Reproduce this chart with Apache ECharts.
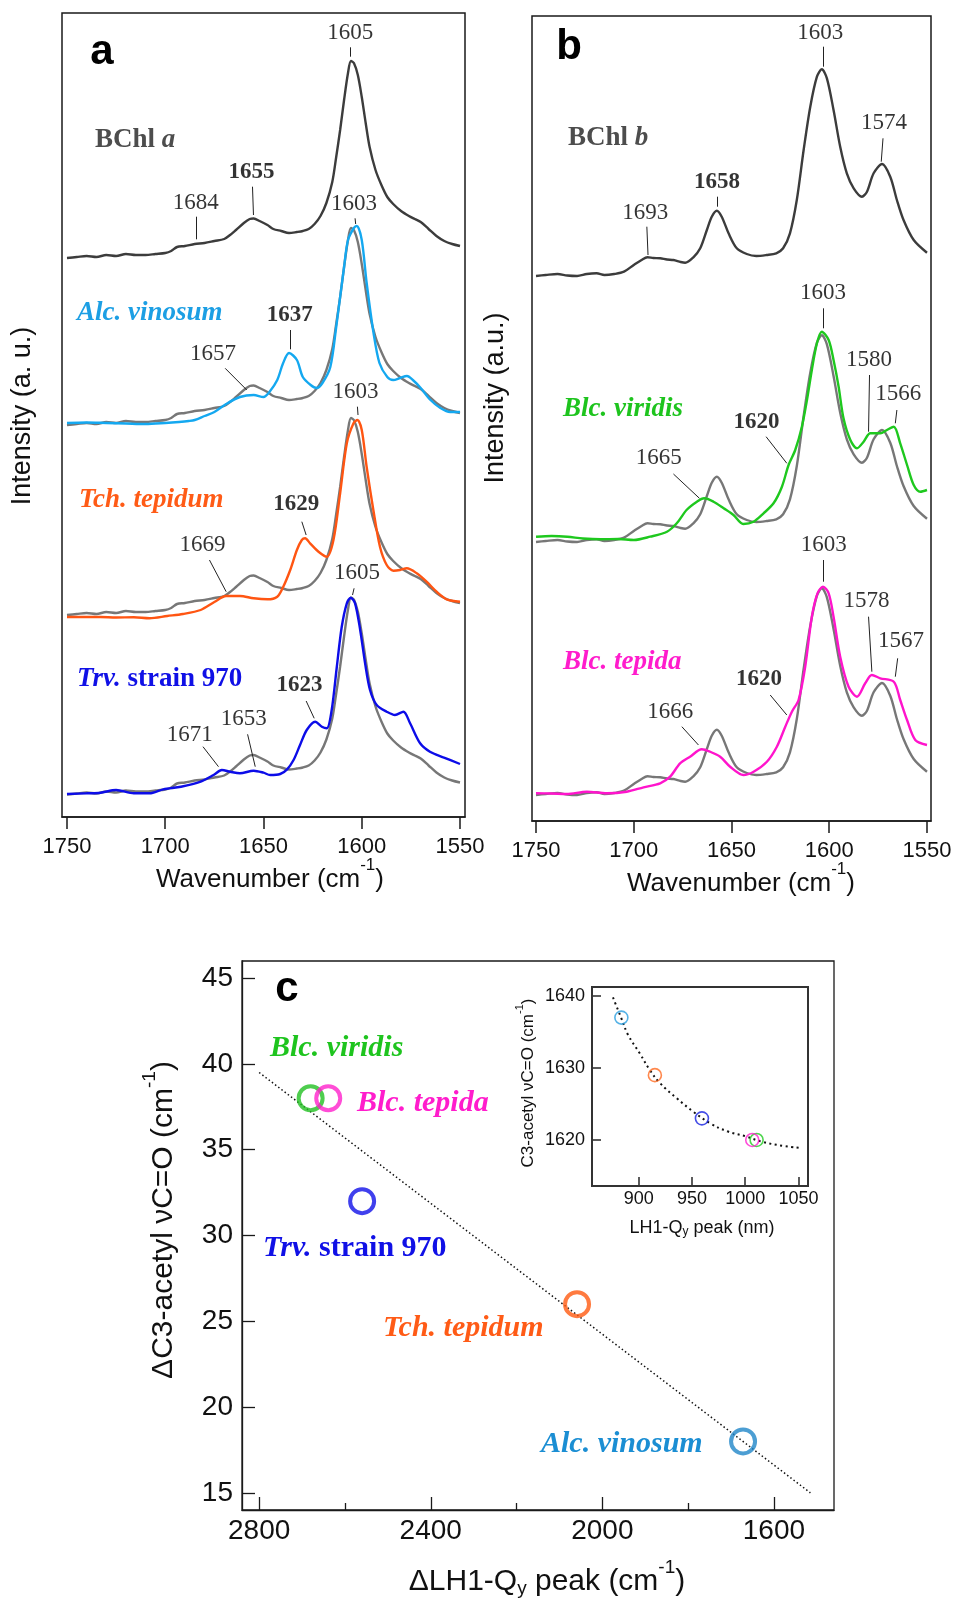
<!DOCTYPE html>
<html><head><meta charset="utf-8">
<script src="https://cdn.jsdelivr.net/npm/echarts@6/dist/echarts.min.js"></script>
<style>html,body{margin:0;padding:0;background:#fff}#chart{width:956px;height:1600px}</style>
</head><body><div id="chart"></div>
<script>
// ---------------- DATA (wavenumber cm-1, intensity a.u.) ----------------
const ticksAB = [1550, 1600, 1650, 1700, 1750];
const ticksCx = [1600, 2000, 2400, 2800];
const ticksCxMinor = [1800, 2200, 2600];
const ticksCy = [15, 20, 25, 30, 35, 40, 45];
const ticksInsetX = [900, 950, 1000, 1050];
const ticksInsetY = [1620, 1630, 1640];

// Panel a: BChl a reference spectrum
const bchlA = [[1750,559],[1745,560],[1740,561],[1735,560],[1730,562],[1725,561],[1720,563],[1715,562],[1710,562],[1705,563],[1700,564],[1697,566],[1694,570],[1690,571],[1685,573],[1680,574],[1675,576],[1670,578],[1667,582],[1664,587],[1660,594],[1657,598],[1655,598.5],[1652,596],[1648,592],[1645,588],[1641,586],[1637,584],[1633,585],[1630,586],[1627,588],[1624,593],[1621,601],[1618,614],[1615,635],[1613,660],[1611,687],[1609,717],[1607,744],[1605.5,756],[1604,754],[1602,742],[1600,720],[1598,694],[1596,670],[1593,647],[1590,632],[1587,620],[1584,613],[1580,606],[1576,601],[1573,598],[1570,595],[1566,588],[1562,581],[1558,576],[1554,573],[1550,571]];
// vertical offsets of the BChl a copy drawn under each LH1 spectrum
const bchlAOffsets = [167, 357, 536.5];
const alcVinosum = [[1750,394],[1740,394.5],[1730,394],[1720,393.5],[1710,393],[1700,394],[1693,395],[1688,396],[1685,397],[1680,401],[1675,405],[1669,413],[1662,420],[1655,422],[1650,420],[1647,425],[1643,437],[1640,454],[1637,464],[1633,457],[1630,440],[1626,432],[1623,429],[1620,434],[1616,450],[1613,490],[1609,550],[1607,577],[1604,589],[1602.5,591],[1600,577],[1597.5,534],[1594,484],[1591,454],[1587,440],[1584,437],[1580.5,439],[1577,441],[1574,437],[1570,429],[1565,417],[1560,409],[1555,405],[1550,405]];
const tchTepidum = [[1750,200],[1740,200],[1733,200],[1725,199.5],[1716,199.7],[1708,198.7],[1699,201],[1691,203],[1682,207],[1675,215],[1669,221],[1662,221],[1655,218.7],[1648,217.7],[1643,220.3],[1640,230],[1636.4,247],[1633,267],[1630.5,277],[1628.8,278.7],[1626.3,273.7],[1622,265.3],[1617.8,260.3],[1614.4,277],[1611,323.7],[1607.6,373.7],[1604.2,393.7],[1602.2,397],[1600,387],[1597.5,350],[1594.1,307],[1590.7,270],[1587.3,252],[1583.9,246.3],[1580.5,247],[1577.1,248.7],[1572,243.7],[1567,235.3],[1561.9,225.3],[1556.8,217.7],[1550,215.3]];
const trv970 = [[1750,23],[1740,23.7],[1733,24.3],[1725,27],[1716,23.7],[1708,23.7],[1701,27.7],[1692,30.3],[1682,35.3],[1675.4,42],[1671.2,47],[1667,45.3],[1662,43.7],[1655,46.3],[1650,44.3],[1646.6,42],[1641.5,43],[1638,47.7],[1634.7,57],[1631.4,72],[1628,87],[1623.7,95.3],[1620.3,90.3],[1617.8,88.7],[1615.3,107],[1612.7,150],[1610.2,190],[1607.6,213.7],[1605.6,219.3],[1603.4,213.7],[1600.8,187],[1598.3,153.7],[1595.8,127],[1592.4,112],[1587.3,105.3],[1583.1,102],[1578.8,105.3],[1575.4,93.7],[1570.3,73.7],[1565.3,65.3],[1558.5,59.7],[1550,53]];

// Panel b: BChl b reference spectrum
const bchlB = [[1750,545],[1745,546],[1739,547],[1734,545.5],[1729,545],[1724,547],[1719,547.7],[1715,546],[1710,547],[1705,549.3],[1700,556],[1696,561],[1693,563.7],[1690,563],[1686.5,562.7],[1683,561.5],[1679.7,561],[1676,559],[1673.7,558.3],[1669.5,563.7],[1666,572.7],[1662.6,591],[1660.1,604.3],[1657.5,610.3],[1655,604.3],[1651.5,587.7],[1647.3,572.7],[1642.2,567],[1637.3,565],[1632.1,566],[1627.1,567.7],[1623.6,572.7],[1620.1,587.7],[1616.6,621],[1613.1,671],[1609.7,714.3],[1606.3,744.3],[1603.8,751.7],[1601.2,742.7],[1597.8,711],[1594.4,674.3],[1591,647.7],[1587.5,632.7],[1583.3,624.3],[1580.7,629.3],[1577.3,647.7],[1573,657],[1568.8,644.3],[1565.4,621],[1562,601],[1556.8,581],[1550,568.3]];
const bchlBOffsets = [266, 519];
const blcViridis = [[1750,284.3],[1742,285],[1734,284.3],[1726,282.5],[1717,281.7],[1708,282],[1700,281],[1691.6,284.3],[1683,289.3],[1678,297.7],[1673,311],[1667.7,319.3],[1664,322.7],[1659.2,319.3],[1654,312.7],[1649,306],[1644,297],[1638.7,299.3],[1633.6,307.7],[1628.5,317.7],[1624.2,334.3],[1620.8,356],[1617.4,371],[1614,394.3],[1611.4,421],[1608.9,451],[1606.3,477.7],[1603.8,489.3],[1600.3,481],[1597.8,461],[1595.2,434.3],[1592.7,402.7],[1589.2,381],[1585.8,372.7],[1582.4,379.3],[1579,387.7],[1573.9,387.7],[1570.5,391],[1567,394.3],[1563.7,377.7],[1560.2,356],[1556.8,336],[1553.4,329.3],[1550,331]];
const blcTepida = [[1750,27.7],[1742,27.5],[1734.3,27],[1724,29.3],[1713.8,27.7],[1703.6,29.3],[1695,33.7],[1686.5,37.7],[1681.4,44.3],[1676.3,57.7],[1671.2,64.3],[1665.2,71.7],[1661,69.3],[1655.8,64.3],[1650.7,54.3],[1643.9,46],[1638.7,49.3],[1631.9,59.3],[1626.8,74.3],[1622.5,94.3],[1619.1,109.3],[1615.7,121],[1612.3,154.3],[1608.9,204.3],[1606,227.7],[1603.2,234.3],[1600.3,227.7],[1597.8,204.3],[1594.4,164.3],[1590.1,134.3],[1585.8,124.3],[1581.6,137.7],[1578.2,146],[1573.9,142.7],[1567,139.3],[1563.7,121],[1560.2,101],[1556,81],[1550,76]];

// Panel c: dLH1-Qy peak (cm-1) vs dC3-acetyl (cm-1)
const cSpecies = ['Blc. viridis', 'Blc. tepida', 'Trv. strain 970', 'Tch. tepidum', 'Alc. vinosum'];
const cDeltaQy = [2680, 2639, 2560, 2059, 1672];
const cDeltaAcetyl = [38, 38, 32, 26, 18];
const cFitLine = [[2800, 39.5], [1515, 15.0]];
// inset: LH1-Qy peak (nm) vs C3-acetyl (cm-1)
const insetQy = [1010.7, 1006.6, 959.3, 915.1, 883.6];
const insetAcetyl = [1620, 1620, 1623, 1629, 1637];
const insetFit = [[875.7,1639.8],[883.6,1636.9],[889.9,1634.6],[901,1632.0],[910.4,1629.7],[919.9,1627.9],[935.6,1625.8],[951.4,1623.9],[967.2,1622.3],[983,1621.2],[1000.3,1620.5],[1014.5,1619.8],[1030.3,1619.3],[1050.2,1618.9]];

// Peak annotations (text anchor and leader line ends, in data coordinates)
const annotA = [
 {t:'1605', b:0, at:[1605.6,783.7], from:[1605.6,769.7], to:[1605.6,760.3]},
 {t:'1655', b:1, at:[1655.9,644.3], from:[1655.6,630.3], to:[1655.1,602]},
 {t:'1684', b:0, at:[1684.2,613.7], from:[1684.4,600.3], to:[1684.4,577.7]},
 {t:'1603', b:0, at:[1603.7,613], from:[1603.4,598.7], to:[1603.1,593]},
 {t:'1637', b:1, at:[1636.4,501], from:[1636.4,487], to:[1636.4,467.7]},
 {t:'1657', b:0, at:[1675.4,463], from:[1669.5,448.7], to:[1658.5,427]},
 {t:'1603', b:0, at:[1602.9,424.3], from:[1602.2,410.3], to:[1601.9,402]},
 {t:'1629', b:1, at:[1633.1,312], from:[1630.5,295.3], to:[1628.3,282]},
 {t:'1669', b:0, at:[1680.8,272], from:[1677.5,257], to:[1669,225.3]},
 {t:'1605', b:0, at:[1602.2,243.7], from:[1603.9,228.7], to:[1604.7,222]},
 {t:'1623', b:1, at:[1631.4,131], from:[1628.3,116], to:[1624.2,98.7]},
 {t:'1653', b:0, at:[1659.8,97.7], from:[1658.1,82.7], to:[1654.2,50.3]},
 {t:'1671', b:0, at:[1687.3,82], from:[1680.8,70.3], to:[1672.9,50.3]}
];
const annotB = [
 {t:'1603', b:0, at:[1604.3,787.7], from:[1603.3,774.3], to:[1603.3,754.3]},
 {t:'1574', b:0, at:[1571.7,697.7], from:[1572.5,682.7], to:[1573.4,659.3]},
 {t:'1658', b:1, at:[1657.2,638.3], from:[1657.2,624.3], to:[1657.2,614.3]},
 {t:'1693', b:0, at:[1693.9,607.7], from:[1693.3,594.3], to:[1692.7,566]},
 {t:'1603', b:0, at:[1602.9,527.7], from:[1603.2,512.7], to:[1603.2,492.7]},
 {t:'1580', b:0, at:[1579.4,461], from:[1579.4,446], to:[1579.9,389.3]},
 {t:'1566', b:0, at:[1564.5,426.7], from:[1565.4,411], to:[1566.2,397.7]},
 {t:'1620', b:1, at:[1637,398.3], from:[1632.3,384.3], to:[1621.7,357.7]},
 {t:'1665', b:0, at:[1686.9,362.7], from:[1679.7,347], to:[1666.4,322.7]},
 {t:'1603', b:0, at:[1602.6,275.3], from:[1603.2,261], to:[1603.2,239.3]},
 {t:'1578', b:0, at:[1580.7,219.3], from:[1579.9,204.3], to:[1578.2,149.3]},
 {t:'1567', b:0, at:[1563.1,179.3], from:[1565,162.7], to:[1566.2,144.3]},
 {t:'1620', b:1, at:[1635.7,141.7], from:[1630.2,126], to:[1621.7,106]},
 {t:'1666', b:0, at:[1681.1,108.3], from:[1675.4,94.3], to:[1666.9,76]}
];

// ---------------- STYLE ----------------
const SANS = 'Liberation Sans', SERIF = 'Liberation Serif';
const DARK = '#3c3c3c', GREY = '#777777', AX = '#1a1a1a';
const col = {alc:'#14a8f0', tch:'#ff5512', trv:'#0c0ce8', vir:'#1ec81e', tep:'#ff14cc'};
const cColors = ['#22c022', '#ff20cc', '#1010e8', '#ff5a10', '#1f86c8'];
const insetColors = ['#22cc22', '#ff20d0', '#1520e0', '#ff6a20', '#2a9fe0'];
const plain = v => String(v);

function spec(data, color, xi, width) {
  return {type:'line', xAxisIndex:xi, yAxisIndex:xi, data:data, showSymbol:false, symbol:'none',
    smooth:0.3, lineStyle:{color:color, width:width||2.4}, z:3, silent:true};
}
function shifted(data, off) { return data.map(p => [p[0], p[1] - off]); }
function annotSeries(list, xi) {
  return [
    {type:'lines', coordinateSystem:'cartesian2d', xAxisIndex:xi, yAxisIndex:xi, z:5, silent:true,
     lineStyle:{color:'#222', width:1, opacity:1},
     data:list.map(a => ({coords:[a.from, a.to]}))},
    {type:'scatter', xAxisIndex:xi, yAxisIndex:xi, symbol:'circle', symbolSize:1, z:6, silent:true,
     itemStyle:{color:'rgba(0,0,0,0)'},
     label:{show:true, position:[0,0], align:'center', verticalAlign:'middle', formatter:p => p.name,
            fontFamily:SERIF, fontSize:23, color:'#000', textBorderWidth:0},
     data:list.map(a => ({name:a.t, value:a.at, label:{fontWeight:a.b ? 'bold' : 'normal'}}))}
  ];
}
function abX(grid, min, max) {
  return {gridIndex:grid, type:'value', min:min, max:max, inverse:true,
    axisLine:{show:true, onZero:false, lineStyle:{color:AX, width:1.5}},
    axisTick:{show:true, inside:false, length:12, customValues:ticksAB, lineStyle:{color:AX, width:1.5}},
    axisLabel:{show:true, customValues:ticksAB, formatter:plain, margin:19, fontSize:22, fontFamily:SANS, color:'#111'},
    splitLine:{show:false}};
}

const series = [];
bchlAOffsets.forEach(o => series.push(spec(shifted(bchlA, o), GREY, 0)));
series.push(spec(bchlA, DARK, 0));
series.push(spec(alcVinosum, col.alc, 0));
series.push(spec(tchTepidum, col.tch, 0));
series.push(spec(trv970, col.trv, 0));
series.push(...annotSeries(annotA, 0));
bchlBOffsets.forEach(o => series.push(spec(shifted(bchlB, o), GREY, 1)));
series.push(spec(bchlB, DARK, 1));
series.push(spec(blcViridis, col.vir, 1));
series.push(spec(blcTepida, col.tep, 1));
series.push(...annotSeries(annotB, 1));
// panel c
series.push({type:'line', xAxisIndex:2, yAxisIndex:2, data:cFitLine, showSymbol:false, symbol:'none',
  lineStyle:{color:'#111', width:1.5, type:[1.5,2.5]}, z:2, silent:true});
cSpecies.forEach((s, i) => series.push({type:'scatter', name:s, xAxisIndex:2, yAxisIndex:2, symbol:'circle', symbolSize:24, z:4,
  itemStyle:{color:'rgba(0,0,0,0)', borderColor:cColors[i], borderWidth:4}, data:[[cDeltaQy[i], cDeltaAcetyl[i]]]}));
// inset
series.push({type:'line', xAxisIndex:4, yAxisIndex:3, data:insetFit, showSymbol:false, symbol:'none', smooth:0.4,
  lineStyle:{color:'#111', width:2, type:[2,3.5]}, z:2, silent:true});
cSpecies.forEach((s, i) => series.push({type:'scatter', xAxisIndex:4, yAxisIndex:3, symbol:'circle', symbolSize:13, z:4,
  itemStyle:{color:'rgba(0,0,0,0)', borderColor:insetColors[i], borderWidth:1.6}, data:[[insetQy[i], insetAcetyl[i]]]}));

// text helpers (layout)
function txt(x, y, text, o) {
  return Object.assign({type:'text', x:x, y:y, z:100, silent:true,
    style:Object.assign({text:text, fill:'#111', align:'center', verticalAlign:'middle'}, o || {})});
}
function speciesRich(size) {
  return {
    bi:{fontFamily:SERIF, fontSize:size, fontWeight:'bold', fontStyle:'italic'},
    b:{fontFamily:SERIF, fontSize:size, fontWeight:'bold'}
  };
}
function sp(x, y, text, color, size) {
  return txt(x, y, text, {fill:color, align:'left', rich:speciesRich(size)});
}
function titleRich(size, L, supSize, subPad) {
  return {
    m:{fontFamily:SANS, fontSize:size, lineHeight:L, verticalAlign:'middle'},
    s:{fontFamily:SANS, fontSize:supSize, verticalAlign:'top'},
    d:{fontFamily:SANS, fontSize:supSize, verticalAlign:'bottom', padding:[0,0,subPad,0]}
  };
}

const graphic = [
  txt(102, 52, 'a', {font:'bold 42px "Liberation Sans"', fill:'#000'}),
  txt(569, 47, 'b', {font:'bold 42px "Liberation Sans"', fill:'#000'}),
  txt(287, 989, 'c', {font:'bold 42px "Liberation Sans"', fill:'#000'}),
  txt(270, 880, '{m|Wavenumber (cm}{s|-1}{m|)}', {rich:titleRich(26, 46, 17, 0)}),
  txt(741, 884, '{m|Wavenumber (cm}{s|-1}{m|)}', {rich:titleRich(26, 46, 17, 0)}),
  Object.assign(txt(23, 416, 'Intensity (a. u.)', {font:'27px "Liberation Sans"'}), {rotation:Math.PI/2}),
  Object.assign(txt(496, 398, 'Intensity (a.u.)', {font:'27px "Liberation Sans"'}), {rotation:Math.PI/2}),
  txt(547, 1582, '{m|ΔLH1-Q}{d|y}{m| peak (cm}{s|-1}{m|)}', {rich:titleRich(30, 48, 19, 8)}),
  Object.assign(txt(164, 1220, '{m|ΔC3-acetyl νC=O (cm}{s|-1}{m|)}', {rich:titleRich(30, 48, 19, 8)}), {rotation:Math.PI/2}),
  txt(702, 1228, '{m|LH1-Q}{d|y}{m| peak (nm)}', {rich:titleRich(18, 28, 12, 4)}),
  Object.assign(txt(528, 1083, '{m|C3-acetyl νC=O (cm}{s|-1}{m|)}', {rich:titleRich(17, 28, 11, 0)}), {rotation:Math.PI/2}),
  // species labels
  sp(95, 140, '{b|BChl }{bi|a}', '#4d4d4d', 27),
  sp(77, 313, '{bi|Alc. vinosum}', '#1c9fe4', 27),
  sp(79, 500, '{bi|Tch. tepidum}', '#ff5b16', 27),
  sp(77, 679, '{bi|Trv.}{b| strain 970}', '#1010e6', 27),
  sp(568, 138, '{b|BChl }{bi|b}', '#4d4d4d', 27),
  sp(563, 409, '{bi|Blc. viridis}', '#1ec41e', 27),
  sp(563, 662, '{bi|Blc. tepida}', '#ff1ccc', 27),
  sp(270, 1048, '{bi|Blc. viridis}', '#1ec41e', 30),
  sp(357, 1103, '{bi|Blc. tepida}', '#ff1ccc', 30),
  sp(263, 1248, '{bi|Trv.}{b| strain 970}', '#1010e6', 30),
  sp(383, 1328, '{bi|Tch. tepidum}', '#ff5b16', 30),
  sp(541, 1444, '{bi|Alc. vinosum}', '#1b8ed3', 30)
];

const option = {
  animation:false,
  backgroundColor:'#fff',
  grid:[
    {left:62, top:13, width:403, height:804, show:true, borderColor:AX, borderWidth:1.5, backgroundColor:'rgba(0,0,0,0)', containLabel:false, outerBoundsMode:'none'},
    {left:532, top:16, width:399, height:805, show:true, borderColor:AX, borderWidth:1.5, backgroundColor:'rgba(0,0,0,0)', containLabel:false, outerBoundsMode:'none'},
    {left:242, top:961, width:592, height:549, show:true, borderColor:AX, borderWidth:1.3, backgroundColor:'rgba(0,0,0,0)', containLabel:false, outerBoundsMode:'none'},
    {left:592, top:987, width:216, height:199, show:true, borderColor:'#333', borderWidth:2, backgroundColor:'#fff', containLabel:false, outerBoundsMode:'none'}
  ],
  xAxis:[
    abX(0, 1547.46, 1752.54),
    abX(1, 1547.95, 1752.05),
    {gridIndex:2, type:'value', min:1460, max:2840, inverse:true, position:'bottom',
     axisLine:{show:true, onZero:false, lineStyle:{color:AX, width:1.3}},
     axisTick:{show:true, inside:true, length:13, customValues:ticksCx, lineStyle:{color:AX, width:1.3}},
     axisLabel:{customValues:ticksCx, formatter:plain, margin:7, fontSize:28, fontFamily:SANS, color:'#111'},
     splitLine:{show:false}},
    {gridIndex:2, type:'value', min:1460, max:2840, inverse:true, position:'bottom',
     axisLine:{show:false, onZero:false},
     axisTick:{show:true, inside:true, length:7, customValues:ticksCxMinor, lineStyle:{color:AX, width:1.3}},
     axisLabel:{show:false}, splitLine:{show:false}},
    {gridIndex:3, type:'value', min:856, max:1059, position:'bottom',
     axisLine:{show:true, onZero:false, lineStyle:{color:'#333', width:2}},
     axisTick:{show:true, inside:true, length:9, customValues:ticksInsetX, lineStyle:{color:'#333', width:1.6}},
     axisLabel:{customValues:ticksInsetX, formatter:plain, margin:4, fontSize:18, fontFamily:SANS, color:'#111'},
     splitLine:{show:false}}
  ],
  yAxis:[
    {gridIndex:0, type:'value', min:0, max:804, show:false},
    {gridIndex:1, type:'value', min:0, max:805, show:false},
    {gridIndex:2, type:'value', min:14, max:46, position:'left',
     axisLine:{show:true, onZero:false, lineStyle:{color:AX, width:1.3}},
     axisTick:{show:true, inside:true, length:13, customValues:ticksCy, lineStyle:{color:AX, width:1.3}},
     axisLabel:{customValues:ticksCy, formatter:plain, margin:9, fontSize:28, fontFamily:SANS, color:'#111'},
     splitLine:{show:false}},
    {gridIndex:3, type:'value', min:1613.6, max:1641.25, position:'left',
     axisLine:{show:true, onZero:false, lineStyle:{color:'#333', width:2}},
     axisTick:{show:true, inside:true, length:9, customValues:ticksInsetY, lineStyle:{color:'#333', width:1.6}},
     axisLabel:{customValues:ticksInsetY, formatter:plain, margin:7, fontSize:18, fontFamily:SANS, color:'#111'},
     splitLine:{show:false}}
  ],
  series:series,
  graphic:graphic
};
const chart = echarts.init(document.getElementById('chart'), null, {renderer:'canvas'});
chart.setOption(option);
</script>
</body></html>
